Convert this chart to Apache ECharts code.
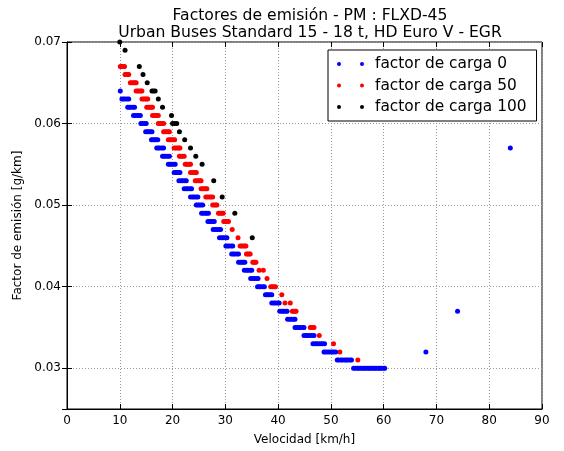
<!DOCTYPE html>
<html>
<head>
<meta charset="utf-8">
<script src="https://cdn.jsdelivr.net/npm/echarts@6/dist/echarts.min.js"></script>
<style>
  html, body { margin: 0; padding: 0; background: #fff; }
  #main { width: 564px; height: 451px; }
</style>
</head>
<body>
<div id="main"></div>
<script>
// datos: [velocidad km/h, factor g/km]
var carga0 = [
  [10.1, 0.064],
  [10.4, 0.063], [10.7, 0.063], [11.0, 0.063], [11.4, 0.063], [11.7, 0.063],
  [11.5, 0.062], [11.8, 0.062], [12.1, 0.062], [12.5, 0.062], [12.8, 0.062],
  [12.6, 0.061], [12.9, 0.061], [13.3, 0.061], [13.6, 0.061], [13.9, 0.061],
  [14.0, 0.060], [14.3, 0.060], [14.7, 0.060], [15.0, 0.060],
  [14.9, 0.059], [15.2, 0.059], [15.5, 0.059], [15.8, 0.059], [16.1, 0.059],
  [16.0, 0.058], [16.3, 0.058], [16.6, 0.058], [16.9, 0.058], [17.2, 0.058],
  [17.0, 0.057], [17.3, 0.057], [17.6, 0.057], [18.0, 0.057], [18.3, 0.057],
  [18.1, 0.056], [18.4, 0.056], [18.7, 0.056], [19.1, 0.056], [19.4, 0.056],
  [19.2, 0.055], [19.5, 0.055], [19.8, 0.055], [20.2, 0.055], [20.5, 0.055],
  [20.3, 0.054], [20.6, 0.054], [20.9, 0.054], [21.2, 0.054], [21.4, 0.054],
  [21.2, 0.053], [21.6, 0.053], [21.9, 0.053], [22.3, 0.053], [22.6, 0.053],
  [22.2, 0.052], [22.6, 0.052], [22.9, 0.052], [23.3, 0.052], [23.6, 0.052],
  [23.4, 0.051], [23.8, 0.051], [24.1, 0.051], [24.5, 0.051], [24.8, 0.051],
  [24.5, 0.050], [24.8, 0.050], [25.1, 0.050], [25.4, 0.050], [25.7, 0.050],
  [25.5, 0.049], [25.8, 0.049], [26.2, 0.049], [26.5, 0.049], [26.8, 0.049],
  [26.7, 0.048], [27.0, 0.048], [27.3, 0.048], [27.6, 0.048], [27.9, 0.048],
  [27.7, 0.047], [28.1, 0.047], [28.4, 0.047], [28.8, 0.047], [29.1, 0.047],
  [28.9, 0.046], [29.3, 0.046], [29.6, 0.046], [30.0, 0.046], [30.3, 0.046],
  [30.1, 0.045], [30.4, 0.045], [30.7, 0.045], [31.1, 0.045], [31.4, 0.045],
  [31.2, 0.044], [31.5, 0.044], [31.8, 0.044], [32.2, 0.044], [32.5, 0.044],
  [32.5, 0.043], [32.8, 0.043], [33.1, 0.043], [33.4, 0.043], [33.7, 0.043],
  [33.6, 0.042], [34.0, 0.042], [34.3, 0.042], [34.7, 0.042], [35.0, 0.042],
  [34.8, 0.041], [35.2, 0.041], [35.5, 0.041], [35.9, 0.041], [36.2, 0.041],
  [36.1, 0.040], [36.4, 0.040], [36.7, 0.040], [37.1, 0.040], [37.4, 0.040],
  [37.6, 0.039], [37.9, 0.039], [38.2, 0.039], [38.5, 0.039], [38.8, 0.039],
  [38.8, 0.038], [39.2, 0.038], [39.5, 0.038], [39.9, 0.038], [40.2, 0.038],
  [40.3, 0.037], [40.7, 0.037], [41.0, 0.037], [41.4, 0.037], [41.7, 0.037],
  [41.8, 0.036], [42.2, 0.036], [42.5, 0.036], [42.9, 0.036], [43.2, 0.036],
  [43.2, 0.035], [43.5, 0.035], [43.9, 0.035], [44.2, 0.035], [44.6, 0.035], [44.9, 0.035],
  [44.9, 0.034], [45.3, 0.034], [45.6, 0.034], [46.0, 0.034], [46.4, 0.034], [46.8, 0.034],
  [46.6, 0.033], [47.0, 0.033], [47.3, 0.033], [47.7, 0.033], [48.1, 0.033], [48.4, 0.033], [48.8, 0.033],
  [48.7, 0.032], [49.0, 0.032], [49.4, 0.032], [49.8, 0.032], [50.2, 0.032], [50.5, 0.032], [50.9, 0.032],
  [51.2, 0.031], [51.5, 0.031], [51.9, 0.031], [52.2, 0.031], [52.6, 0.031], [52.9, 0.031],
  [53.2, 0.031], [53.6, 0.031], [53.9, 0.031],
  [54.3, 0.030], [54.6, 0.030], [55.0, 0.030], [55.3, 0.030], [55.6, 0.030], [56.0, 0.030],
  [56.3, 0.030], [56.6, 0.030], [57.0, 0.030], [57.3, 0.030], [57.6, 0.030], [58.0, 0.030],
  [58.3, 0.030], [58.6, 0.030], [59.0, 0.030], [59.3, 0.030], [59.6, 0.030], [60.0, 0.030], [60.2, 0.030],
  [68, 0.032], [74, 0.037], [84, 0.057]
];
var carga50 = [
  [10.1, 0.067], [10.4, 0.067], [10.7, 0.067], [10.9, 0.067],
  [11.0, 0.066], [11.2, 0.066], [11.5, 0.066], [11.7, 0.066],
  [12.0, 0.065], [12.3, 0.065], [12.6, 0.065], [12.9, 0.065], [13.1, 0.065],
  [13.1, 0.064], [13.4, 0.064], [13.7, 0.064], [14.0, 0.064], [14.2, 0.064],
  [14.2, 0.063], [14.5, 0.063], [14.8, 0.063], [15.1, 0.063], [15.3, 0.063],
  [15.1, 0.062], [15.4, 0.062], [15.7, 0.062], [16.0, 0.062], [16.2, 0.062],
  [16.2, 0.061], [16.5, 0.061], [16.8, 0.061], [17.1, 0.061], [17.3, 0.061],
  [17.3, 0.060], [17.6, 0.060], [17.9, 0.060], [18.1, 0.060], [18.3, 0.060],
  [18.3, 0.059], [18.6, 0.059], [18.9, 0.059], [19.2, 0.059], [19.4, 0.059],
  [19.2, 0.058], [19.5, 0.058], [19.8, 0.058], [20.1, 0.058], [20.4, 0.058],
  [20.3, 0.057], [20.6, 0.057], [20.9, 0.057], [21.2, 0.057], [21.4, 0.057],
  [21.3, 0.056], [21.6, 0.056], [21.9, 0.056], [22.2, 0.056],
  [22.4, 0.055], [22.7, 0.055], [22.9, 0.055], [23.2, 0.055], [23.4, 0.055],
  [23.4, 0.054], [23.7, 0.054], [24.0, 0.054], [24.3, 0.054], [24.5, 0.054],
  [24.3, 0.053], [24.6, 0.053], [24.9, 0.053], [25.2, 0.053], [25.4, 0.053],
  [25.4, 0.052], [25.7, 0.052], [26.0, 0.052], [26.3, 0.052], [26.5, 0.052],
  [26.3, 0.051], [26.6, 0.051], [27.0, 0.051], [27.3, 0.051], [27.6, 0.051],
  [27.6, 0.050], [27.9, 0.050], [28.2, 0.050], [28.4, 0.050],
  [28.7, 0.049], [29.0, 0.049], [29.3, 0.049], [29.6, 0.049],
  [29.7, 0.048], [30.0, 0.048], [30.3, 0.048], [30.6, 0.048],
  [31.3, 0.047],
  [32.4, 0.046],
  [32.8, 0.045], [33.1, 0.045], [33.4, 0.045], [33.7, 0.045], [33.9, 0.045],
  [34.0, 0.044], [34.2, 0.044], [34.5, 0.044], [34.7, 0.044],
  [35.2, 0.043], [35.4, 0.043], [35.6, 0.043], [35.8, 0.043],
  [36.4, 0.042], [37.2, 0.042],
  [37.9, 0.041],
  [38.6, 0.040], [38.9, 0.040], [39.2, 0.040], [39.5, 0.040],
  [40.7, 0.039],
  [41.3, 0.038], [42.3, 0.038],
  [42.7, 0.037], [42.9, 0.037], [43.2, 0.037], [43.4, 0.037],
  [46.1, 0.035], [46.3, 0.035], [46.6, 0.035], [46.8, 0.035],
  [47.8, 0.034],
  [50.5, 0.033],
  [51.7, 0.032],
  [55.1, 0.031]
];
var carga100 = [
  [10.0, 0.070], [11.0, 0.069], [13.7, 0.067], [14.4, 0.066], [15.2, 0.065],
  [16.1, 0.064], [16.4, 0.064], [16.7, 0.064], [17.3, 0.063], [18.1, 0.062], [19.8, 0.061],
  [20.0, 0.060], [20.4, 0.060], [20.8, 0.060], [21.3, 0.059], [22.3, 0.058], [23.4, 0.057],
  [24.4, 0.056], [25.6, 0.055], [27.8, 0.053], [29.4, 0.051], [31.8, 0.049],
  [35.1, 0.046]
];
var nombres = ['factor de carga 0', 'factor de carga 50', 'factor de carga 100'];
var colores = ['#0000ff', '#ff0000', '#000000'];

var fuente = 'DejaVu Sans';
var chart = echarts.init(document.getElementById('main'), null, { renderer: 'canvas' });
var dosPuntos = 'path://M0,2a2,2 0 1,0 4,0a2,2 0 1,0 -4,0M23,2a2,2 0 1,0 4,0a2,2 0 1,0 -4,0';

var option = {
  backgroundColor: '#fff',
  animation: false,
  title: {
    text: 'Factores de emisión - PM : FLXD-45\nUrban Buses Standard 15 - 18 t, HD Euro V - EGR',
    left: 305,
    textAlign: 'center',
    top: 2,
    textStyle: { fontFamily: fuente, fontSize: 15.6, fontWeight: 'normal', color: '#000', lineHeight: 17.5 }
  },
  legend: {
    data: nombres,
    orient: 'vertical',
    left: 328,
    top: 50,
    backgroundColor: '#fff',
    borderColor: '#000',
    borderWidth: 1,
    borderRadius: 0,
    padding: [6, 10, 6, 9],
    itemGap: 5.5,
    itemWidth: 27,
    itemHeight: 4,
    icon: dosPuntos,
    textStyle: { fontFamily: fuente, fontSize: 15.4, color: '#000', lineHeight: 16, padding: [0, 0, 0, 6] }
  },
  grid: {
    left: 67, right: 22, top: 42, bottom: 40,
    show: true, borderColor: '#000', borderWidth: 1
  },
  xAxis: [{
    type: 'value', min: 0, max: 90, interval: 10,
    name: 'Velocidad [km/h]', nameLocation: 'middle', nameGap: 25,
    nameTextStyle: { fontFamily: fuente, fontSize: 12, color: '#000' },
    axisLine: { lineStyle: { color: '#000' } },
    axisTick: { inside: true, length: 5, lineStyle: { color: '#000' } },
    axisLabel: { fontFamily: fuente, fontSize: 12, color: '#000', margin: 6 },
    splitLine: { lineStyle: { color: '#9a9a9a', type: [1, 2], width: 1 } }
  }, {
    type: 'value', min: 0, max: 90, interval: 10, position: 'top',
    axisLine: { show: false },
    axisTick: { inside: true, length: 5, lineStyle: { color: '#000' } },
    axisLabel: { show: false },
    splitLine: { show: false }
  }],
  yAxis: [{
    type: 'value', min: 0.025, max: 0.07, splitNumber: 5,
    name: 'Factor de emisión [g/km]', nameLocation: 'middle', nameGap: 35,
    nameTextStyle: { fontFamily: fuente, fontSize: 12, color: '#000' },
    axisLine: { show: true, lineStyle: { color: '#000' } },
    axisTick: { inside: true, length: 5, lineStyle: { color: '#000' } },
    axisLabel: { fontFamily: fuente, fontSize: 12, color: '#000', margin: 6, showMinLabel: false },
    splitLine: { lineStyle: { color: '#9a9a9a', type: [1, 2], width: 1 } }
  }, {
    type: 'value', min: 0.025, max: 0.07, splitNumber: 5, position: 'right',
    axisLine: { show: false },
    axisTick: { inside: true, length: 5, lineStyle: { color: '#000' } },
    axisLabel: { show: false },
    splitLine: { show: false }
  }],
  series: [
    { name: nombres[2], type: 'scatter', data: carga100, symbolSize: 5, itemStyle: { color: colores[2], opacity: 1 } },
    { name: nombres[1], type: 'scatter', data: carga50, symbolSize: 5, itemStyle: { color: colores[1], opacity: 1 } },
    { name: nombres[0], type: 'scatter', data: carga0, symbolSize: 5, itemStyle: { color: colores[0], opacity: 1 } }
  ]
};
chart.setOption(option);
</script>
</body>
</html>
